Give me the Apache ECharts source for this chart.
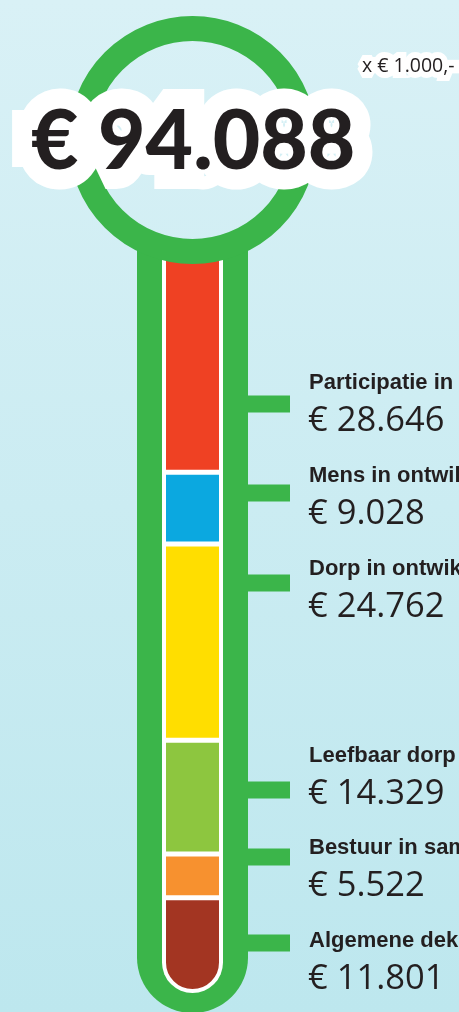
<!DOCTYPE html>
<html>
<head>
<meta charset="utf-8">
<script src="https://cdn.jsdelivr.net/npm/echarts@6/dist/echarts.min.js"></script>
<style>
  html, body { margin: 0; padding: 0; }
  #chart { width: 459px; height: 1012px; }
</style>
</head>
<body>
<div id="chart"></div>
<script>
  // programma's, van boven naar beneden in de thermometer
  var categories = [
    'Participatie in de samenleving',
    'Mens in ontwikkeling',
    'Dorp in ontwikkeling',
    'Leefbaar dorp',
    'Bestuur in samenwerking',
    'Algemene dekkingsmiddelen'
  ];
  // bedragen x € 1.000,-
  var values = [28646, 9028, 24762, 14329, 5522, 11801];
  var colors = ['#ef4123', '#0ba8e0', '#ffde00', '#8dc63f', '#f7912f', '#a33522'];
  var unitLabel = 'x € 1.000,-';

  // layout (pixels)
  var GREEN = '#3bb54a', INK = '#231f20';
  var cx = 192.5;
  var labelX = 309;
  var labelTitleY = [389, 482, 575, 762, 854, 947];   // baselines of the bold titles
  var tickCenterY = [404, 493, 583, 790, 857, 943];

  function euro(v) {
    var s = String(Math.round(v));
    return '€ ' + s.replace(/\B(?=(\d{3})+(?!\d))/g, '.');
  }

  // text is placed by its top; shift a baseline up by ~ascent
  function textTop(baseline, size, ratio) {
    return baseline - size * ratio;
  }

  var total = values.reduce(function(a, b) { return a + b; }, 0);

  var chart = echarts.init(document.getElementById('chart'), null, { renderer: 'canvas' });

  // bars stacked from the bottom: last category first
  var series = [];
  for (var i = values.length - 1; i >= 0; i--) {
    series.push({
      type: 'bar',
      name: categories[i],
      stack: 'total',
      barWidth: '100%',
      z: 3,
      itemStyle: {
        color: colors[i],
        borderColor: '#ffffff',
        borderWidth: 2.5,
        borderRadius: i === values.length - 1 ? [0, 0, 28, 28] : 0
      },
      data: [values[i]]
    });
  }

  var graphics = [
    {
      type: 'rect', z: -10, silent: true,
      shape: { x: 0, y: 0, width: 459, height: 1012 },
      style: {
        fill: new echarts.graphic.LinearGradient(0, 0, 0, 1, [
          { offset: 0, color: '#d9f1f6' },
          { offset: 1, color: '#bde7ee' }
        ])
      }
    },
    // stem
    {
      type: 'rect', z: 0, silent: true,
      shape: { x: 137, y: 245, width: 111, height: 768, r: [0, 0, 55.5, 55.5] },
      style: { fill: GREEN }
    },
    {
      type: 'rect', z: 1, silent: true,
      shape: { x: 162, y: 245, width: 61, height: 748, r: [0, 0, 30.5, 30.5] },
      style: { fill: '#ffffff' }
    },
    // bulb ring
    {
      type: 'circle', z: 10, silent: true,
      shape: { cx: cx, cy: 140, r: 111.5 },
      style: { fill: null, stroke: GREEN, lineWidth: 25 }
    },
    // total
    {
      type: 'text', z: 20, silent: true,
      x: 31, y: textTop(171, 82, 0.85),
      style: {
        text: euro(total),
        font: '900 82px Lato',
        fill: INK,
        stroke: '#ffffff',
        lineWidth: 40,
        lineJoin: 'round'
      }
    },
    {
      type: 'text', z: 20, silent: true,
      x: 362, y: textTop(72, 19.5, 0.8),
      style: {
        text: unitLabel,
        font: '19.5px "Open Sans"',
        fill: INK,
        stroke: '#ffffff',
        lineWidth: 12,
        lineJoin: 'round'
      }
    }
  ];

  categories.forEach(function(name, idx) {
    graphics.push({
      type: 'rect', z: 0, silent: true,
      shape: { x: 240, y: tickCenterY[idx] - 8.5, width: 50, height: 17 },
      style: { fill: GREEN }
    });
    graphics.push({
      type: 'text', z: 20, silent: true,
      x: labelX, y: textTop(labelTitleY[idx], 22, 0.76),
      style: {
        text: name,
        font: 'bold 22px "Liberation Sans"',
        fill: INK
      }
    });
    graphics.push({
      type: 'text', z: 20, silent: true,
      x: labelX - 1, y: textTop(labelTitleY[idx] + 42, 34.5, 0.8),
      style: {
        text: euro(values[idx]),
        font: '34.5px "Open Sans"',
        fill: INK
      }
    });
  });

  chart.setOption({
    animation: false,
    grid: { left: 163.5, width: 58, top: 245, bottom: 20.5 },
    xAxis: { type: 'category', data: [''], show: false },
    yAxis: { type: 'value', min: 0, max: total, show: false },
    graphic: { elements: graphics },
    series: series
  });
</script>
</body>
</html>
